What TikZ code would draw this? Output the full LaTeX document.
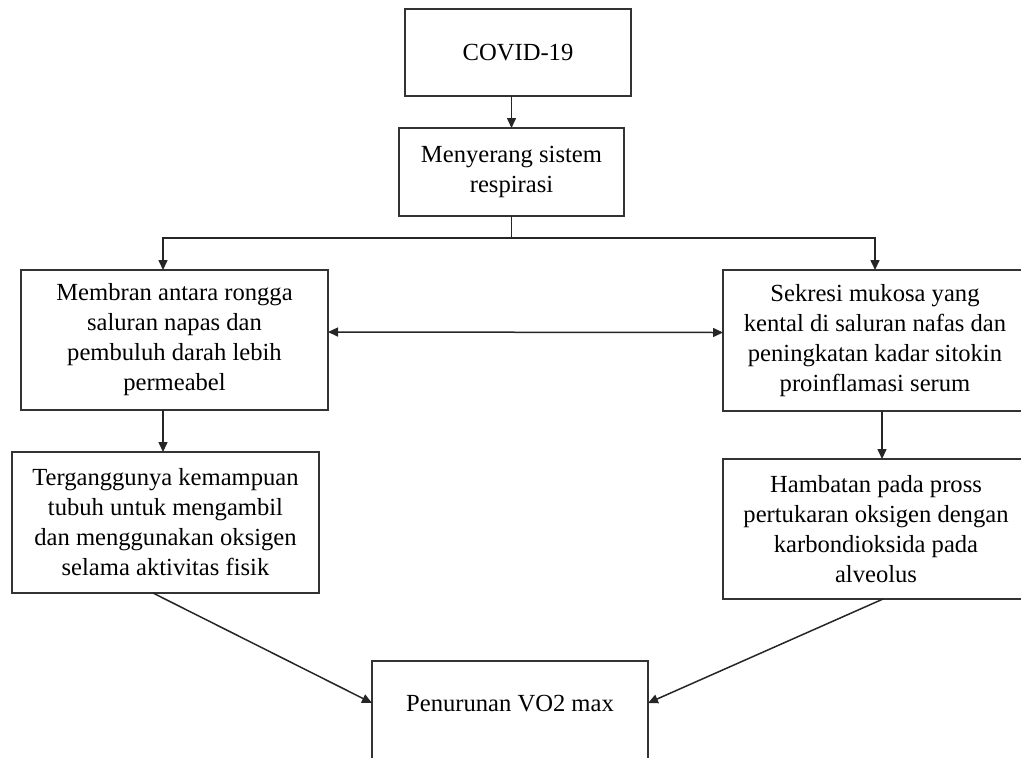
\documentclass[tikz,border=0pt]{standalone}
\usepackage{fontspec}
\setmainfont{Liberation Serif}
\usetikzlibrary{arrows.meta}
\tikzstyle{flowbox}=[draw=black!80, line width=0.9pt, inner sep=0, outer sep=0, align=center,
                     font=\fontsize{12.3}{15}\selectfont]
\tikzstyle{flowarrow}=[draw=black!85, line width=0.75pt, -{Triangle[length=5pt, width=4.5pt]}]
\tikzstyle{flowchart}=[x=0.5pt, y=-0.5pt,
                       % Keep the page to the size of the original figure.
                       execute at begin picture={\path[use as bounding box, clip] (0, 0) rectangle (1021, 757);}]
\begin{document}
\begin{tikzpicture}[flowchart]
        \node[flowbox, minimum width=113pt, minimum height=43.5pt] (covid) at (518, 52.5) {COVID-19};
        \node[flowbox, minimum width=112.5pt, minimum height=44pt] (serang) at (511.5, 172) {Menyerang sistem\\respirasi};
        \node[flowbox, minimum width=153.5pt, minimum height=70pt] (membran) at (174.5, 340) {Membran antara rongga\\saluran napas dan\\pembuluh darah lebih\\permeabel};
        \node[flowbox, minimum width=152pt, minimum height=70.5pt] (sekresi) at (875, 340.5) {Sekresi mukosa yang\\kental di saluran nafas dan\\peningkatan kadar sitokin\\proinflamasi serum};
        \node[flowbox, minimum width=153.5pt, minimum height=70.5pt] (ganggu) at (165.5, 522.5) {Terganggunya kemampuan\\tubuh untuk mengambil\\dan menggunakan oksigen\\selama aktivitas fisik};
        \node[flowbox, minimum width=153pt, minimum height=70pt] (hambat) at (876, 529) {Hambatan pada pross\\pertukaran oksigen dengan\\karbondioksida pada\\alveolus};
        \node[flowbox, minimum width=138pt, text height=25pt, text depth=60pt, anchor=base] (vo2) at (510, 711) {Penurunan VO2 max};
        \coordinate (split) at (511.5, 238);
        \coordinate (lsplit) at (163, 238);
        \coordinate (rsplit) at (875, 238);
        \coordinate (rdown) at (882, 420);
        \draw[flowarrow] (serang.north |- covid.south) -- (serang.north);
        \draw[line width=0.75pt, draw=black!85] (serang.south) -- (split);
        \draw[flowarrow] (split) -- (lsplit) -- (membran.north -| lsplit);
        \draw[flowarrow] (split) -- (rsplit) -- (sekresi.north -| rsplit);
        \draw[flowarrow, {Triangle[length=5pt, width=4.5pt]}-{Triangle[length=5pt, width=4.5pt]}]
            ([yshift=4pt]membran.east) -- ([yshift=4pt]sekresi.west);
        \draw[flowarrow] (membran.south -| lsplit) -- (ganggu.north -| lsplit);
        \draw[flowarrow] (sekresi.south -| rdown) -- (hambat.north -| rdown);
        \draw[flowarrow] ([xshift=-6.25pt]ganggu.south) -- ([yshift=4pt]vo2.west |- vo2.base);
        \draw[flowarrow] ([xshift=3.5pt]hambat.south) -- ([yshift=4pt]vo2.east |- vo2.base);
    \end{tikzpicture}
\end{document}
